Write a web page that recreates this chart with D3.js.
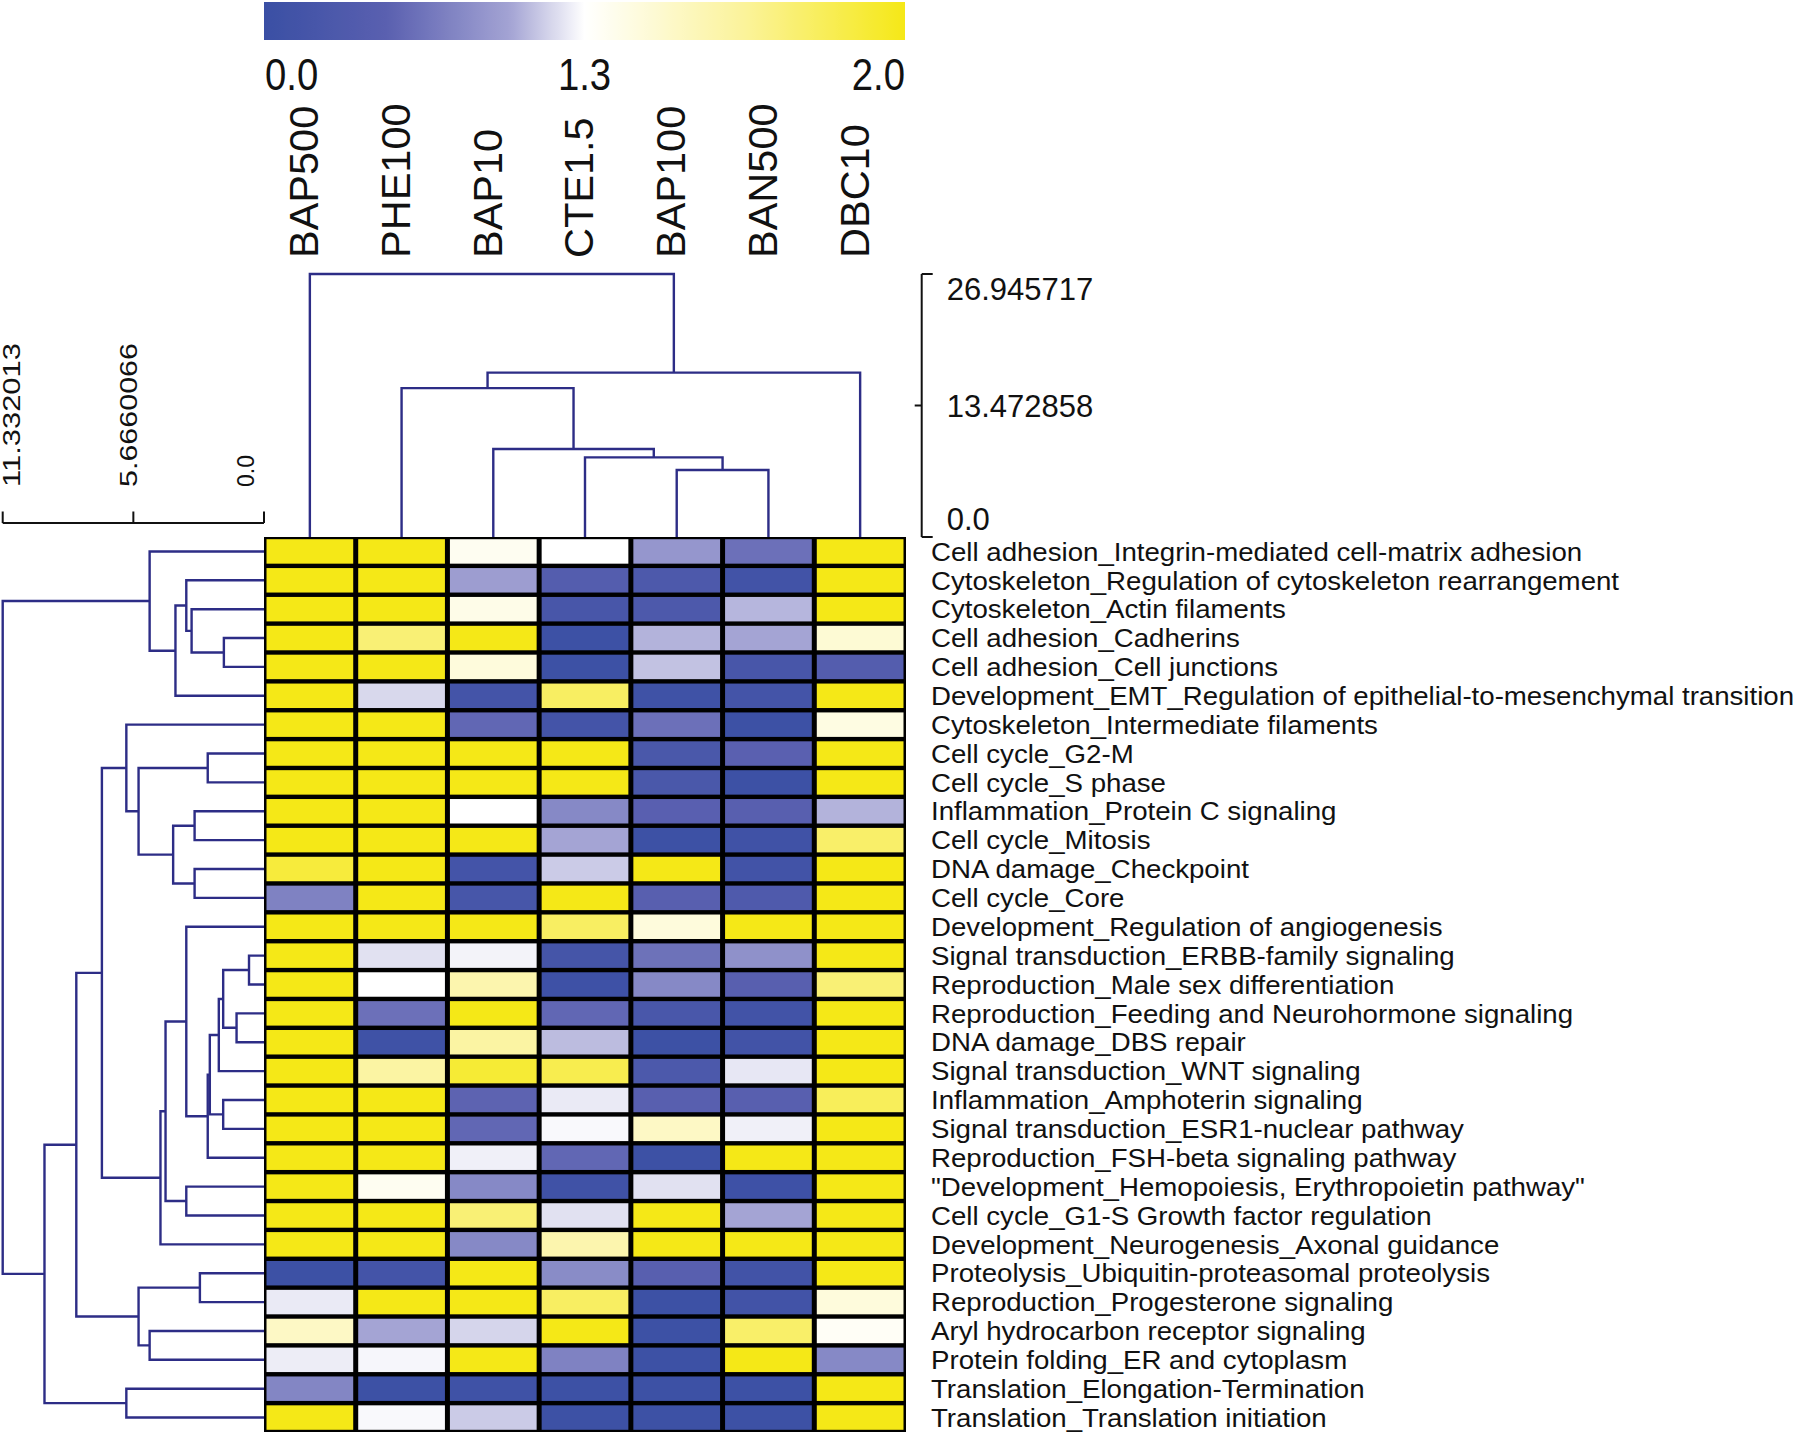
<!DOCTYPE html>
<html><head><meta charset="utf-8">
<script src="https://cdn.jsdelivr.net/npm/d3@7"></script>
<style>
body{margin:0;background:#fff}
svg{display:block}
text{font-family:"Liberation Sans",Arial,sans-serif;fill:#111}
</style>
</head><body>
<svg id="chart" width="1800" height="1436"></svg>
<script>
// ---------------- DATA ----------------
const columns = ["BAP500","PHE100","BAP10","CTE1.5","BAP100","BAN500","DBC10"];
const rowLabels = [
"Cell adhesion_Integrin-mediated cell-matrix adhesion",
"Cytoskeleton_Regulation of cytoskeleton rearrangement",
"Cytoskeleton_Actin filaments",
"Cell adhesion_Cadherins",
"Cell adhesion_Cell junctions",
"Development_EMT_Regulation of epithelial-to-mesenchymal transition",
"Cytoskeleton_Intermediate filaments",
"Cell cycle_G2-M",
"Cell cycle_S phase",
"Inflammation_Protein C signaling",
"Cell cycle_Mitosis",
"DNA damage_Checkpoint",
"Cell cycle_Core",
"Development_Regulation of angiogenesis",
"Signal transduction_ERBB-family signaling",
"Reproduction_Male sex differentiation",
"Reproduction_Feeding and Neurohormone signaling",
"DNA damage_DBS repair",
"Signal transduction_WNT signaling",
"Inflammation_Amphoterin signaling",
"Signal transduction_ESR1-nuclear pathway",
"Reproduction_FSH-beta signaling pathway",
"\"Development_Hemopoiesis, Erythropoietin pathway\"",
"Cell cycle_G1-S Growth factor regulation",
"Development_Neurogenesis_Axonal guidance",
"Proteolysis_Ubiquitin-proteasomal proteolysis",
"Reproduction_Progesterone signaling",
"Aryl hydrocarbon receptor signaling",
"Protein folding_ER and cytoplasm",
"Translation_Elongation-Termination",
"Translation_Translation initiation"];

// values (0 .. 2), one array per row, in column order
const values = [
[2.0,2.0,1.35,1.30,0.90,0.62,2.0],
[2.0,2.0,0.95,0.40,0.30,0.12,2.0],
[2.0,2.0,1.38,0.22,0.30,1.06,2.0],
[2.0,1.75,2.0,0.05,1.05,1.00,1.45],
[2.0,2.0,1.42,0.05,1.10,0.22,0.40],
[2.0,1.17,0.15,1.80,0.08,0.15,2.0],
[2.0,2.0,0.55,0.15,0.62,0.05,1.40],
[2.0,2.0,2.0,2.0,0.25,0.50,2.0],
[2.0,2.0,2.0,2.0,0.25,0.05,2.0],
[2.0,2.0,1.30,0.80,0.48,0.47,1.05],
[2.0,2.0,2.0,1.00,0.05,0.10,1.78],
[1.90,2.0,0.15,1.13,2.0,0.12,2.0],
[0.75,2.0,0.20,2.0,0.47,0.33,2.0],
[2.0,2.0,2.0,1.80,1.42,2.0,2.0],
[2.0,1.20,1.26,0.17,0.63,0.86,2.0],
[2.0,1.30,1.58,0.07,0.80,0.47,1.75],
[2.0,0.62,2.0,0.55,0.23,0.13,2.0],
[2.0,0.08,1.62,1.08,0.05,0.13,2.0],
[2.0,1.62,1.92,1.85,0.28,1.22,2.0],
[2.0,2.0,0.52,1.23,0.47,0.47,1.82],
[2.0,2.0,0.55,1.28,1.50,1.25,2.0],
[2.0,2.0,1.25,0.55,0.05,2.0,2.0],
[2.0,1.35,0.80,0.10,1.20,0.07,2.0],
[2.0,2.0,1.75,1.20,2.0,1.00,2.0],
[2.0,2.0,0.80,1.58,2.0,2.0,2.0],
[0.05,0.15,2.0,0.82,0.47,0.12,2.0],
[1.23,2.0,2.0,1.80,0.05,0.12,1.42],
[1.50,1.00,1.16,2.0,0.05,1.78,1.33],
[1.24,1.27,2.0,0.75,0.05,2.0,0.80],
[0.78,0.05,0.08,0.05,0.05,0.05,2.0],
[2.0,1.28,1.13,0.05,0.05,0.05,2.0]];

// colour legend
const colorDomain = [0, 0.5, 1.0, 1.3, 1.65, 2.0];
const colorRange  = ["#3a4fa4", "#5a60b0", "#a4a4d4", "#ffffff", "#fbf39a", "#f5e817"];
const legendTicks = [0, 1.3, 2.0];
const legendLabels = ["0.0", "1.3", "2.0"];

// row dendrogram (leaves = row indices, h = merge height)
const rowTree = {h:11.332013, c:[
  {h:4.96, c:[0, {h:3.84, c:[{h:3.37, c:[1, {h:3.14, c:[2, {h:1.74, c:[3,4]}]}]}, 5]}]},
  {h:9.52, c:[
    {h:8.14, c:[
      {h:7.03, c:[
        {h:5.97, c:[6, {h:5.44, c:[{h:2.44, c:[7,8]}, {h:3.94, c:[{h:3.01, c:[9,10]}, {h:3.01, c:[11,12]}]}]}]},
        {h:4.49, c:[
          {h:4.27, c:[
            {h:3.37, c:[13, {h:2.44, c:[
              {h:2.35, c:[
                {h:1.96, c:[{h:1.77, c:[{h:0.65, c:[14,15]}, {h:1.19, c:[16,17]}]}, 18]},
                {h:1.77, c:[19,20]}]},
              21]}]},
            {h:3.37, c:[22,23]}]},
          24]}]},
      {h:5.44, c:[{h:2.78, c:[25,26]}, {h:4.96, c:[27,28]}]}]},
    {h:5.97, c:[29,30]}]}]};
const rowAxisTicks = [11.332013, 5.6660066, 0];
const rowAxisLabels = ["11.332013", "5.6660066", "0.0"];

// column dendrogram
const colTree = {h:26.945717, c:[0, {h:16.84, c:[{h:15.25, c:[1, {h:9.02, c:[2, {h:8.16, c:[3, {h:6.86, c:[4,5]}]}]}]}, 6]}]};
const colAxisTicks = [26.945717, 13.472858, 0];
const colAxisLabels = ["26.945717", "13.472858", "0.0"];

// ---------------- DRAWING ----------------
const svg = d3.select("#chart");
const HM = {left:264, right:906, top:537, bottom:1432};
const treeColor = "#2d2d86";

const xBand = d3.scaleBand().domain(d3.range(columns.length)).range([HM.left, HM.right]);
const yBand = d3.scaleBand().domain(d3.range(rowLabels.length)).range([HM.top, HM.bottom]);
const color = d3.scaleLinear().domain(colorDomain).range(colorRange).clamp(true);
const bw = xBand.bandwidth(), bh = yBand.bandwidth();

// heatmap
svg.append("rect").attr("x", HM.left).attr("y", HM.top)
  .attr("width", HM.right - HM.left).attr("height", HM.bottom - HM.top).attr("fill", "#000");
const cells = [];
values.forEach((row, r) => row.forEach((v, c) => cells.push({r, c, v})));
svg.append("g").selectAll("rect").data(cells).join("rect")
  .attr("x", d => xBand(d.c) + 2.5)
  .attr("y", d => yBand(d.r) + 2.2)
  .attr("width", bw - 5)
  .attr("height", bh - 4.4)
  .attr("fill", d => color(d.v));

// row labels
svg.append("g").selectAll("text").data(rowLabels).join("text")
  .attr("transform", (d, i) => `translate(931,${yBand(i) + bh / 2 + 9.2}) scale(1.08,1)`)
  .attr("font-size", 25.6)
  .text(d => d);

// column labels
svg.append("g").selectAll("text").data(columns).join("text")
  .attr("transform", (d, i) => `translate(${xBand(i) + bw / 2 + 8.4},258) rotate(-90)`)
  .attr("font-size", 41.5)
  .text(d => d);

// colour bar
const barX = d3.scaleLinear().domain([0, 1.3, 2.0]).range([264, 584.5, 905]);
const defs = svg.append("defs");
const grad = defs.append("linearGradient").attr("id", "cbar")
  .attr("x1", "0%").attr("x2", "100%").attr("y1", "0%").attr("y2", "0%");
d3.range(0, 101).forEach(i => {
  const t = i / 100;
  const v = barX.invert(264 + t * (905 - 264));
  grad.append("stop").attr("offset", (t * 100) + "%").attr("stop-color", color(v));
});
svg.append("rect").attr("x", barX(0)).attr("y", 2).attr("width", barX(2) - barX(0))
  .attr("height", 38).attr("fill", "url(#cbar)");
svg.append("g").selectAll("text").data(legendTicks).join("text")
  .attr("transform", (d, i) => `translate(${barX(d) + (i === 0 ? 1 : 0)},90) scale(0.87,1)`)
  .attr("text-anchor", (d, i) => i === 0 ? "start" : (i === legendTicks.length - 1 ? "end" : "middle"))
  .attr("font-size", 44)
  .text((d, i) => legendLabels[i]);

// dendrogram helper
function drawTree(node, leafPos, hPos, toXY, g) {
  if (typeof node === "number") return {p: leafPos(node), q: hPos(0)};
  const a = drawTree(node.c[0], leafPos, hPos, toXY, g);
  const b = drawTree(node.c[1], leafPos, hPos, toXY, g);
  const q = hPos(node.h);
  const pts = [[a.q, a.p], [q, a.p], [q, b.p], [b.q, b.p]].map(([qq, pp]) => toXY(qq, pp));
  g.append("path").attr("d", d3.line()(pts));
  return {p: (a.p + b.p) / 2, q};
}

// row dendrogram (left)
const rowH = d3.scaleLinear().domain([0, 11.332013]).range([264, 2.7]);
const gRow = svg.append("g").attr("fill", "none").attr("stroke", treeColor)
  .attr("stroke-width", 2.4).attr("stroke-linejoin", "miter");
drawTree(rowTree, i => yBand(i) + bh / 2, rowH, (q, p) => [q, p], gRow);

// row axis
const gRA = svg.append("g").attr("stroke", "#111").attr("stroke-width", 2).attr("fill", "none");
gRA.append("line").attr("x1", rowH(rowAxisTicks[0])).attr("x2", rowH(0)).attr("y1", 523).attr("y2", 523);
rowAxisTicks.forEach(t => gRA.append("line").attr("x1", rowH(t)).attr("x2", rowH(t)).attr("y1", 511.5).attr("y2", 523));
const rowLabelX = d3.scaleLinear().domain([0, 11.332013]).range([254, 20]);
svg.append("g").selectAll("text").data(rowAxisTicks).join("text")
  .attr("transform", d => `translate(${rowLabelX(d)},487) rotate(-90)`)
  .attr("font-size", 23)
  .each(function (d, i) {
    const s = rowAxisLabels[i];
    if (s.length > 3) d3.select(this).attr("textLength", 144).attr("lengthAdjust", "spacingAndGlyphs");
  })
  .text((d, i) => rowAxisLabels[i]);

// column dendrogram (top)
const colH = d3.scaleLinear().domain([0, 26.945717]).range([537, 274]);
const gCol = svg.append("g").attr("fill", "none").attr("stroke", treeColor)
  .attr("stroke-width", 2.4).attr("stroke-linejoin", "miter");
drawTree(colTree, i => xBand(i) + bw / 2, colH, (q, p) => [p, q], gCol);

// column axis
const axX = 921.7;
const gCA = svg.append("g").attr("stroke", "#111").attr("stroke-width", 2).attr("fill", "none");
gCA.append("line").attr("x1", axX).attr("x2", axX).attr("y1", colH(colAxisTicks[0])).attr("y2", colH(0));
colAxisTicks.forEach((t, i) => {
  const mid = i === 1;
  gCA.append("line").attr("x1", mid ? axX - 7 : axX).attr("x2", mid ? axX : axX + 11)
    .attr("y1", colH(t)).attr("y2", colH(t));
});
const colLabelDy = [26, 11, -7];
svg.append("g").selectAll("text").data(colAxisTicks).join("text")
  .attr("x", 946.7)
  .attr("y", (d, i) => colH(d) + colLabelDy[i])
  .attr("font-size", 31)
  .text((d, i) => colAxisLabels[i]);
</script>
</body></html>
